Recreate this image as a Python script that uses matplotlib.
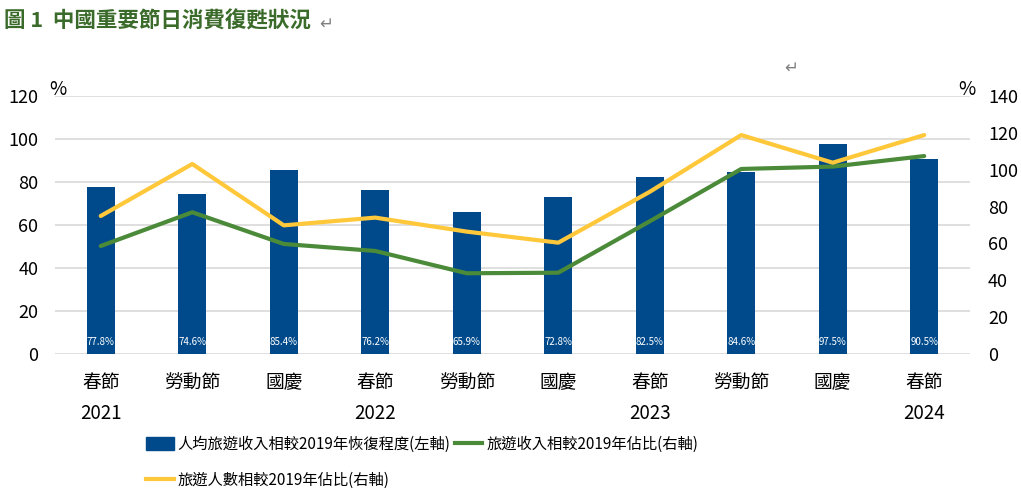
import numpy as np
import matplotlib
matplotlib.use('Agg')
import matplotlib.pyplot as plt
from matplotlib.patches import Patch
from matplotlib.lines import Line2D

plt.rcParams['font.family'] = ['Noto Sans CJK TC', 'DejaVu Sans']

# data
holidays = ['春節', '勞動節', '國慶', '春節', '勞動節', '國慶', '春節', '勞動節', '國慶', '春節']
years = ['2021', '', '', '2022', '', '', '2023', '', '', '2024']
per_capita = [77.8, 74.6, 85.4, 76.2, 65.9, 72.8, 82.5, 84.6, 97.5, 90.5]
revenue = [58.6, 76.9, 59.7, 55.9, 43.8, 44.1, 72.0, 100.4, 101.7, 107.4]
visitors = [74.9, 103.1, 69.8, 74.0, 66.4, 60.4, 88.0, 118.8, 103.8, 118.8]

blue = '#004A8B'
green = '#4A8A38'
yellow = '#FFC83A'

fig = plt.figure(figsize=(10.21, 4.9), dpi=100)
ax = fig.add_axes([0.0539, 0.2776, 0.8961, 0.5265])
ax2 = ax.twinx()

x = np.arange(len(holidays))
ax.bar(x, per_capita, width=0.31, color=blue, zorder=2)
for xi, v in zip(x, per_capita):
    ax.text(xi, 3.2, f'{v}%', ha='center', va='bottom', color='white', fontsize=7)

ax2.plot(x, revenue, color=green, lw=3, solid_capstyle='round', zorder=3)
ax2.plot(x, visitors, color=yellow, lw=3, solid_capstyle='round', zorder=3)

ax.set_xlim(-0.5, len(holidays) - 0.5)
ax.set_ylim(0, 120)
ax2.set_ylim(0, 140)
ax.set_yticks(range(0, 121, 20))
ax2.set_yticks(range(0, 141, 20))
ax.yaxis.grid(True, color='#D9D9D9', lw=1.2, zorder=0)
ax.set_axisbelow(True)

labels = [h + '\n' + y if y else h for h, y in zip(holidays, years)]
ax.set_xticks(x)
ax.set_xticklabels(labels, fontsize=13.5, linespacing=1.6)
for t in ax.get_xticklabels():
    t.set_verticalalignment('top')

for a in (ax, ax2):
    for s in a.spines.values():
        s.set_visible(False)
    a.tick_params(length=0)
ax.tick_params(axis='y', labelsize=13, pad=12)
ax2.tick_params(axis='y', labelsize=13, pad=13)
ax.tick_params(axis='x', pad=13)

ax.text(0.003, 1.025, '%', transform=ax.transAxes, fontsize=13.5, ha='center', va='center')
ax2.text(0.997, 1.025, '%', transform=ax2.transAxes, fontsize=13.5, ha='center', va='center')

fig.text(0.004, 0.958, '圖 1  中國重要節日消費復甦狀況', fontsize=15.5, fontweight='bold',
         color='#3B6B2A', ha='left', va='center')
fig.text(0.313, 0.952, '↵', fontsize=12, color='#808080', ha='left', va='center',
         family=['DejaVu Sans'])
fig.text(0.768, 0.862, '↵', fontsize=12, color='#808080', ha='left', va='center',
         family=['DejaVu Sans'])

handles = [Patch(color=blue), Line2D([], [], color=yellow, lw=3),
           Line2D([], [], color=green, lw=3)]
names = ['人均旅遊收入相較2019年恢復程度(左軸)', '旅遊人數相較2019年佔比(右軸)',
         '旅遊收入相較2019年佔比(右軸)']
fig.legend(handles, names, loc='upper left', bbox_to_anchor=(0.143, 0.11), ncol=2,
           frameon=False, fontsize=11, handlelength=1.8, handleheight=0.9,
           handletextpad=0.25, columnspacing=0.3, labelspacing=1.2, borderpad=0,
           borderaxespad=0)

fig.savefig('out.png', dpi=100)
